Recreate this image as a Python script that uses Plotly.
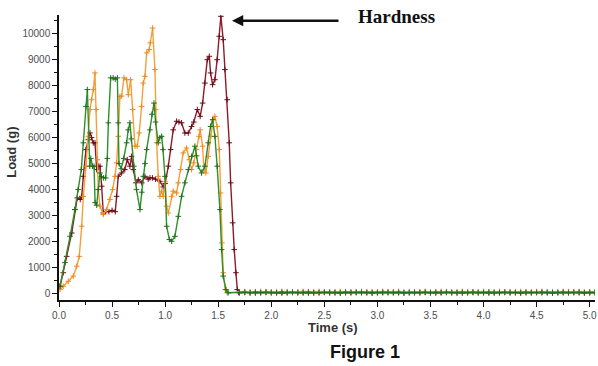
import plotly.graph_objects as go

# ---- data (time in s, load in g) ----
red_t = [0.01, 0.04, 0.072, 0.12, 0.15, 0.172, 0.2, 0.214, 0.229, 0.254, 0.276, 0.292, 0.307, 0.323, 0.339,
         0.355, 0.37, 0.386, 0.402, 0.417, 0.44, 0.47, 0.50, 0.53, 0.543, 0.558, 0.59, 0.62, 0.643, 0.668,
         0.684, 0.70, 0.725, 0.747, 0.78, 0.81, 0.84, 0.857, 0.88, 0.91, 0.951, 0.982, 1.0, 1.03, 1.052,
         1.076, 1.108, 1.13, 1.155, 1.186, 1.218, 1.249, 1.27, 1.303, 1.33, 1.353, 1.375, 1.397, 1.416,
         1.428, 1.447, 1.469, 1.49, 1.51, 1.525, 1.547, 1.563, 1.585, 1.604, 1.617, 1.636, 1.651, 1.667,
         1.68, 1.69]
red_v = [280, 800, 1430, 2330, 3230, 3680, 3620, 3740, 4510, 5540, 5920, 6180, 6000, 5800, 5800,
         4770, 4900, 4900, 4130, 3100, 3150, 3150, 3200, 3150, 3740, 4510, 4640, 4770, 5150, 4900,
         5280, 4770, 4260, 4380, 4260, 4510, 4400, 4450, 4450, 4400, 4320, 4100, 4230, 4900, 5540,
         6300, 6630, 6600, 6570, 6180, 6180, 6430, 6600, 7080, 6820, 7330, 8100, 9000, 9130,
         8490, 8040, 8230, 9000, 9900, 10670, 9770, 8620, 7460, 5800, 4260, 2720, 1690, 800,
         150, 40]

orange_t = [0.01, 0.04, 0.088, 0.135, 0.167, 0.191, 0.214, 0.229, 0.254, 0.276, 0.292, 0.307, 0.323, 0.339,
            0.35, 0.361, 0.37, 0.386, 0.417, 0.449, 0.48, 0.505, 0.527, 0.543, 0.558, 0.574, 0.59, 0.612,
            0.637, 0.653, 0.675, 0.694, 0.716, 0.737, 0.756, 0.778, 0.794, 0.81, 0.826, 0.85, 0.86, 0.882,
            0.904, 0.91, 0.92, 0.935, 0.951, 0.967, 0.982, 1.0, 1.014, 1.03, 1.061, 1.076, 1.108, 1.124,
            1.146, 1.17, 1.202, 1.227, 1.249, 1.27, 1.296, 1.32, 1.33, 1.353, 1.365, 1.384, 1.406, 1.428,
            1.453, 1.469, 1.49, 1.51, 1.522, 1.535, 1.547, 1.566, 1.585]
orange_v = [150, 280, 470, 670, 1050, 1430, 2590, 3740, 4900, 6050, 7080, 7460, 7850, 8490,
            7080, 5150, 4000, 3360, 3040, 3230, 3620, 4000, 4510, 5030, 6050, 7590, 7600, 8300,
            8230, 7650, 8230, 7080, 5670, 5670, 6180, 7200, 8100, 8360, 9260, 9390, 9650, 10220,
            8620, 7080, 5800, 4510, 3740, 3940, 3740, 4300, 3360, 3100, 3740, 3940, 3870, 4260,
            4770, 5410, 5600, 5150, 4770, 5030, 5540, 6050, 6300, 5670, 4770, 4640, 5280, 6050,
            6690, 6820, 6430, 5540, 3870, 1950, 800, 150, 30]

green_t = [0.01, 0.056, 0.104, 0.15, 0.18, 0.21, 0.229, 0.254, 0.267, 0.29, 0.30, 0.315, 0.33, 0.34,
           0.355, 0.37, 0.386, 0.40, 0.42, 0.44, 0.455, 0.465, 0.487, 0.51, 0.53, 0.55, 0.558, 0.565,
           0.585, 0.61, 0.637, 0.652, 0.668, 0.68, 0.706, 0.73, 0.763, 0.78, 0.794, 0.81, 0.826, 0.857,
           0.875, 0.895, 0.91, 0.935, 0.95, 0.967, 0.98, 0.998, 1.014, 1.04, 1.061, 1.092, 1.124, 1.155,
           1.186, 1.218, 1.249, 1.28, 1.296, 1.312, 1.343, 1.375, 1.406, 1.428, 1.447, 1.469, 1.49,
           1.516, 1.532, 1.547, 1.573, 1.594]
green_v = [280, 1190, 2200, 3230, 4000, 4770, 5800, 7200, 7850, 4900, 5200, 4900, 4900, 3500,
           3400, 4000, 4640, 4500, 4450, 4450, 5200, 6570, 8300, 8300, 8250, 8300, 6570, 5000,
           4800, 5200, 5800, 6300, 6570, 5950, 4900, 4000, 3230, 3900, 4510, 5000, 5540, 6300,
           6900, 7330, 6600, 5800, 6000, 6050, 5540, 4510, 2590, 2080, 2010, 2200, 2970, 3740,
           4260, 4770, 5280, 5670, 5300, 4900, 4640, 4900, 5800, 6430, 6690, 6050, 4900,
           3230, 1690, 670, 150, 30]

# flat tail after the probe leaves the sample
tail_t = [1.70, 1.75, 1.80, 1.85, 1.90, 1.95, 2.00, 2.05, 2.10, 2.15, 2.20, 2.25, 2.30, 2.35,
          2.40, 2.45, 2.50, 2.55, 2.60, 2.65, 2.70, 2.75, 2.80, 2.85, 2.90, 2.95, 3.00, 3.05,
          3.10, 3.15, 3.20, 3.25, 3.30, 3.35, 3.40, 3.45, 3.50, 3.55, 3.60, 3.65, 3.70, 3.75,
          3.80, 3.85, 3.90, 3.95, 4.00, 4.05, 4.10, 4.15, 4.20, 4.25, 4.30, 4.35, 4.40, 4.45,
          4.50, 4.55, 4.60, 4.65, 4.70, 4.75, 4.80, 4.85, 4.90, 4.95, 5.00, 5.05]
red_tail = [30, 40, 30, 20, 30, 40, 30, 30, 20, 30, 40, 30, 30, 20,
            30, 30, 40, 30, 30, 20, 30, 30, 40, 30, 30, 20, 30, 30,
            40, 30, 30, 20, 30, 30, 30, 40, 30, 20, 30, 40, 30, 30,
            20, 30, 40, 30, 30, 20, 30, 30, 40, 30, 30, 20, 30, 30,
            40, 30, 30, 20, 30, 30, 30, 40, 30, 20, 30, 30]
orange_tail = [70, 80, 60, 70, 80, 70, 60, 70, 80, 70, 70, 60, 80, 70,
               70, 80, 60, 70, 70, 80, 70, 60, 70, 80, 70, 70, 60, 80,
               70, 70, 80, 60, 70, 70, 70, 80, 60, 70, 80, 70, 60, 70,
               80, 70, 70, 60, 80, 70, 70, 80, 60, 70, 70, 80, 70, 60,
               70, 80, 70, 70, 60, 80, 70, 70, 80, 60, 70, 70]
green_tail = [40, 50, 30, 50, 40, 50, 40, 30, 50, 40, 50, 40, 40, 50,
              30, 40, 50, 40, 40, 30, 50, 40, 40, 50, 40, 30, 40, 50,
              40, 40, 50, 30, 40, 40, 40, 50, 30, 50, 40, 50, 40, 30,
              50, 40, 50, 40, 40, 50, 30, 40, 50, 40, 40, 30, 50, 40,
              40, 50, 40, 30, 40, 50, 40, 40, 50, 30, 40, 40]

y_ticks = [0, 1000, 2000, 3000, 4000, 5000, 6000, 7000, 8000, 9000, 10000]
x_ticks = [0.0, 0.5, 1.0, 1.5, 2.0, 2.5, 3.0, 3.5, 4.0, 4.5, 5.0]

series = [
    ("red", red_t + tail_t, red_v + red_tail, "#8E1B2B", "#6A0A18"),
    ("orange", orange_t + tail_t, orange_v + orange_tail, "#F5A03A", "#EE8A1E"),
    ("green", green_t + tail_t, green_v + green_tail, "#2F8F2A", "#1F6E1C"),
]

fig = go.Figure()
for name, t, v, col, mcol in series:
    fig.add_trace(go.Scatter(
        x=t, y=v, mode="lines+markers", name=name,
        line=dict(color=col, width=1.4),
        marker=dict(symbol="cross-thin", size=4, line=dict(color=mcol, width=1)),
        showlegend=False,
    ))

tickfont = dict(family="Liberation Sans, Arial, sans-serif", size=10, color="#4d4d4d")

fig.update_xaxes(
    range=[0, 5.05], tickvals=x_ticks, ticktext=[f"{v:.1f}" for v in x_ticks],
    showline=True, linecolor="#111", linewidth=1.5, mirror=False,
    ticks="outside", ticklen=5, tickwidth=1.2, tickcolor="#111",
    minor=dict(dtick=0.25, ticks="outside", ticklen=3, tickcolor="#111", tickwidth=1),
    showgrid=False, zeroline=False, tickfont=tickfont, automargin=False,
    ticklabeloverflow="allow",
)
fig.update_yaxes(
    range=[-250, 10720], tickvals=y_ticks, tickformat="d",
    showline=True, linecolor="#111", linewidth=1.5,
    ticks="outside", ticklen=5, tickwidth=1.2, tickcolor="#111",
    minor=dict(dtick=500, ticks="outside", ticklen=3, tickcolor="#111", tickwidth=1),
    showgrid=False, zeroline=False, tickfont=tickfont, automargin=False,
)

annotations = [
    dict(text="<b>Time (s)</b>", xref="paper", yref="paper", x=0.511, y=-0.097,
         xanchor="center", yanchor="middle", showarrow=False,
         font=dict(family="Liberation Sans, Arial", size=13, color="#333")),
    dict(text="<b>Load (g)</b>", xref="paper", yref="paper", x=-0.0877, y=0.52,
         xanchor="center", yanchor="middle", textangle=-90, showarrow=False,
         font=dict(family="Liberation Sans, Arial", size=13, color="#333")),
    dict(text="<b>Figure 1</b>", xref="paper", yref="paper", x=0.571, y=-0.184,
         xanchor="center", yanchor="middle", showarrow=False,
         font=dict(family="Liberation Sans, Arial", size=18, color="#111")),
    dict(text="<b>Hardness</b>", xref="paper", yref="paper", x=0.629, y=0.993,
         xanchor="center", yanchor="middle", showarrow=False,
         font=dict(family="Liberation Serif, Times New Roman, serif", size=19, color="#111")),
    dict(text="", x=1.63, y=10500, xref="x", yref="y", ax=108, ay=0,
         showarrow=True, arrowhead=2, arrowsize=0.9, arrowwidth=2.5, arrowcolor="#111"),
]

fig.update_layout(
    width=598, height=366,
    margin=dict(l=59, r=3, t=15, b=66),
    plot_bgcolor="white", paper_bgcolor="white",
    annotations=annotations,
)

# remove the browser's default 8px body margin so the 598x366 figure fills the window exactly
fig.write_html(
    "out.html",
    config={"displayModeBar": False},
    post_script="document.body.style.margin='0px';document.body.style.overflow='hidden';",
)
